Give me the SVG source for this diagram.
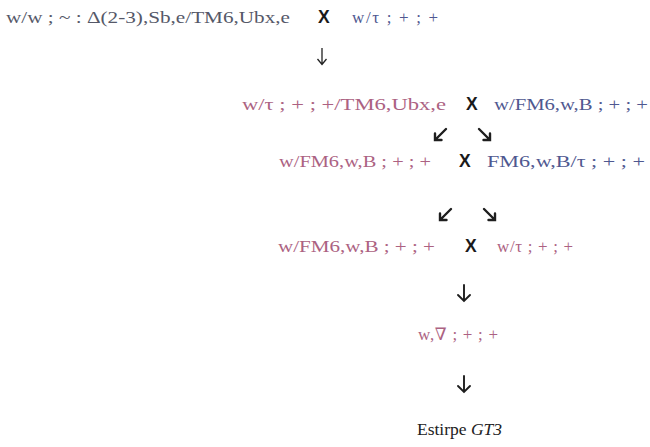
<svg xmlns="http://www.w3.org/2000/svg" width="650" height="447" viewBox="0 0 650 447">
  <style>
    .g { font-family: "Liberation Serif", "DejaVu Serif", serif; font-size: 17px; }
    .dark { fill: #555868; }
    .pink { fill: #ac6282; }
    .blue { fill: #4f5890; }
    .x { font-family: "Liberation Sans", Arial, sans-serif; font-weight: bold; font-size: 17.5px; fill: #1a1a1a; }
    .title { font-family: "Liberation Serif", "DejaVu Serif", serif; font-size: 17.5px; fill: #222; }
    .arr { fill: none; stroke: #1e1e1e; stroke-width: 2.4; stroke-linecap: round; stroke-linejoin: miter; }
    .arr-down { fill: none; stroke: #1e1e1e; stroke-width: 1.9; stroke-linecap: round; }
    .arr-thin { fill: none; stroke: #222; stroke-width: 1.3; }
  </style>

  <!-- Generation 1 cross -->
  <g id="p1-female"><text class="g dark" x="6" y="23" textLength="284" lengthAdjust="spacingAndGlyphs">w/w ; ~ : Δ(2-3),Sb,e/TM6,Ubx,e</text></g>
  <g id="p1-cross"><text class="x" x="318" y="23">X</text></g>
  <g id="p1-male"><text class="g blue" x="352" y="23" textLength="86" lengthAdjust="spacing">w/τ ; + ; +</text></g>

  <!-- Generation 2 cross -->
  <g id="f1-male"><text class="g pink" x="242" y="110" textLength="204" lengthAdjust="spacingAndGlyphs">w/τ ; + ; +/TM6,Ubx,e</text></g>
  <g id="f1-cross"><text class="x" x="466" y="110">X</text></g>
  <g id="f1-female"><text class="g blue" x="494" y="110" textLength="154" lengthAdjust="spacingAndGlyphs">w/FM6,w,B ; + ; +</text></g>

  <!-- Generation 3 cross -->
  <g id="f2-female"><text class="g pink" x="279" y="167" textLength="152" lengthAdjust="spacingAndGlyphs">w/FM6,w,B ; + ; +</text></g>
  <g id="f2-cross"><text class="x" x="459" y="167">X</text></g>
  <g id="f2-male"><text class="g blue" x="487" y="167" textLength="158" lengthAdjust="spacingAndGlyphs">FM6,w,B/τ ; + ; +</text></g>

  <!-- Generation 4 cross -->
  <g id="f3-female"><text class="g pink" x="278" y="252" textLength="157" lengthAdjust="spacingAndGlyphs">w/FM6,w,B ; + ; +</text></g>
  <g id="f3-cross"><text class="x" x="465" y="252">X</text></g>
  <g id="f3-male"><text class="g pink" x="497" y="252" textLength="76" lengthAdjust="spacing">w/τ ; + ; +</text></g>

  <!-- Resulting genotype and stock -->
  <g id="f4"><text class="g pink" x="418" y="340" textLength="80" lengthAdjust="spacing">w,∇ ; + ; +</text></g>
  <g id="stock"><text class="title" x="417" y="435">Estirpe <tspan font-style="italic">GT3</tspan></text></g>

  <!-- Connectors -->
  <g id="connectors">
    <!-- thin down arrow -->
    <path class="arr-thin" d="M322 48 V64 M317.5 59 L322 64.5 L326.5 59"/>
    <!-- split arrows, first pair -->
    <path class="arr" d="M446 129 L435 140 M435 133.5 V140 H441.5"/>
    <path class="arr" d="M479 129 L490 140 M490 133.5 V140 H483.5"/>
    <!-- split arrows, second pair -->
    <path class="arr" d="M451 209 L440 220 M440 213.5 V220 H446.5"/>
    <path class="arr" d="M484 209 L495 220 M495 213.5 V220 H488.5"/>
    <!-- down arrows -->
    <path class="arr-down" d="M464 285 V301 M458 295 L464 301 L470 295"/>
    <path class="arr-down" d="M464 376 V392 M458 386 L464 392 L470 386"/>
  </g>
</svg>
